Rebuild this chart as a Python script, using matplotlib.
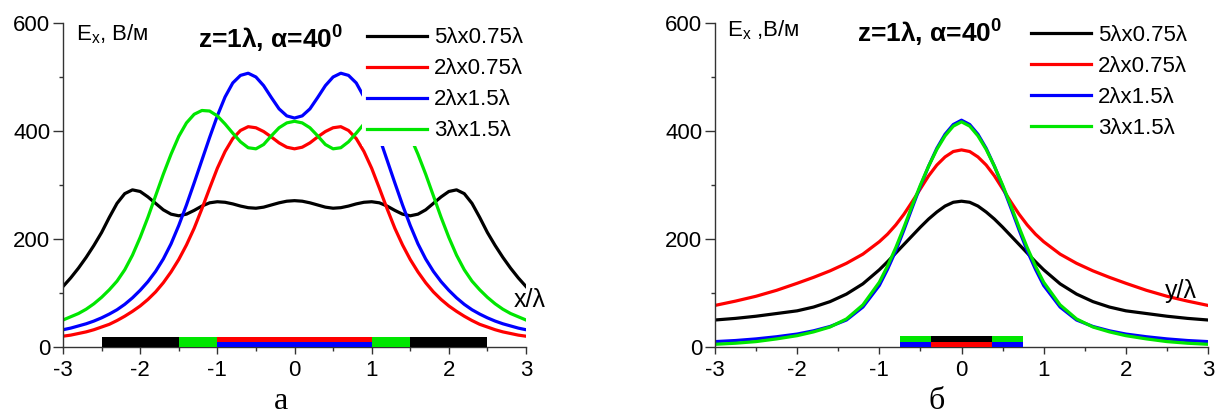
import numpy as np
import matplotlib
matplotlib.use("Agg")
import matplotlib.pyplot as plt

plt.rcParams['font.family'] = ['Liberation Sans', 'DejaVu Sans']
plt.rcParams['mathtext.fontset'] = 'custom'
plt.rcParams['mathtext.rm'] = 'Liberation Sans'
plt.rcParams['mathtext.it'] = 'Liberation Sans:italic'
plt.rcParams['mathtext.bf'] = 'Liberation Sans:bold'
plt.rcParams['mathtext.default'] = 'regular'

# ---------------- data: panel a (x/lambda) ----------------
x_a = [-3.0, -2.9, -2.8, -2.7, -2.6, -2.5, -2.4, -2.3, -2.2, -2.1, -2.0,
       -1.9, -1.8, -1.7, -1.6, -1.5, -1.4, -1.3, -1.2, -1.1, -1.0,
       -0.9, -0.8, -0.7, -0.6, -0.5, -0.4, -0.3, -0.2, -0.1, 0.0,
       0.1, 0.2, 0.3, 0.4, 0.5, 0.6, 0.7, 0.8, 0.9, 1.0,
       1.1, 1.2, 1.3, 1.4, 1.5, 1.6, 1.7, 1.8, 1.9, 2.0,
       2.1, 2.2, 2.3, 2.4, 2.5, 2.6, 2.7, 2.8, 2.9, 3.0]

a_5x075 = [112, 128, 146, 166, 188, 212, 240, 266, 284, 291, 288,
           278, 266, 254, 246, 243, 246, 253, 261, 267, 269,
           268, 265, 261, 258, 257, 259, 263, 267, 270, 271,
           270, 267, 263, 259, 257, 258, 261, 265, 268, 269,
           267, 261, 253, 246, 243, 246, 254, 266, 278, 288,
           291, 284, 266, 240, 212, 188, 166, 146, 128, 112]

a_2x075 = [20, 22, 25, 28, 32, 37, 42, 49, 57, 66, 76,
           88, 102, 119, 139, 162, 189, 220, 256, 294, 331,
           362, 386, 401, 408, 406, 399, 389, 378, 370, 367,
           370, 378, 389, 399, 406, 408, 401, 386, 362, 331,
           294, 256, 220, 189, 162, 139, 119, 102, 88, 76,
           66, 57, 49, 42, 37, 32, 28, 25, 22, 20]

a_2x15 = [32, 35, 39, 43, 48, 54, 61, 69, 79, 91, 105,
          121, 140, 163, 191, 225, 263, 304, 346, 388, 428,
          463, 489, 503, 507, 500, 484, 462, 441, 428, 424,
          428, 441, 462, 484, 500, 507, 503, 489, 463, 428,
          388, 346, 304, 263, 225, 191, 163, 140, 121, 105,
          91, 79, 69, 61, 54, 48, 43, 39, 35, 32]

a_3x15 = [50, 56, 62, 70, 80, 92, 106, 122, 143, 170, 203,
          240, 280, 320, 357, 390, 415, 431, 438, 437, 428,
          413, 396, 380, 369, 367, 375, 391, 406, 415, 418,
          415, 406, 391, 375, 367, 369, 380, 396, 413, 428,
          437, 438, 431, 415, 390, 357, 320, 280, 240, 203,
          170, 143, 122, 106, 92, 80, 70, 62, 56, 50]

# ---------------- data: panel b (y/lambda) ----------------
x_b = [-3.0, -2.75, -2.5, -2.25, -2.0, -1.8, -1.6, -1.4, -1.2, -1.0,
       -0.9, -0.8, -0.7, -0.6, -0.5, -0.4, -0.3, -0.2, -0.1, 0.0,
       0.1, 0.2, 0.3, 0.4, 0.5, 0.6, 0.7, 0.8, 0.9,
       1.0, 1.2, 1.4, 1.6, 1.8, 2.0, 2.25, 2.5, 2.75, 3.0]

b_5x075 = [50, 53, 57, 62, 67, 74, 84, 98, 117, 143,
           158, 174, 190, 206, 222, 237, 250, 261, 268, 270,
           268, 261, 250, 237, 222, 206, 190, 174, 158,
           143, 117, 98, 84, 74, 67, 62, 57, 53, 50]

b_2x075 = [77, 85, 94, 105, 118, 129, 141, 155, 172, 195,
           209, 226, 246, 269, 293, 317, 337, 352, 362, 365,
           362, 352, 337, 317, 293, 269, 246, 226, 209,
           195, 172, 155, 141, 129, 118, 105, 94, 85, 77]

b_2x15 = [10, 12, 15, 19, 24, 30, 38, 50, 74, 114,
          144, 178, 217, 258, 298, 335, 368, 394, 412, 420,
          412, 394, 368, 335, 298, 258, 217, 178, 144,
          114, 74, 50, 38, 30, 24, 19, 15, 12, 10]

b_3x15 = [5, 7, 10, 15, 21, 28, 37, 52, 78, 120,
          150, 184, 222, 262, 300, 335, 366, 391, 409, 417,
          409, 391, 366, 335, 300, 262, 222, 184, 150,
          120, 78, 52, 37, 28, 21, 15, 10, 7, 5]

labels = ['5λx0.75λ', '2λx0.75λ', '2λx1.5λ', '3λx1.5λ']
colors = ['#000000', '#ff0000', '#0000ff', '#00e600']

# aperture strips (width in lambda, bottom, height, colour index)
strip_a_width = [5.0, 3.0, 2.0, 2.0]
strip_a_bottom = [0, 0, 9.5, 0]
strip_a_height = [19, 19, 9.5, 9.5]
strip_a_color = [0, 3, 1, 2]

strip_b_width = [1.5, 1.5, 0.75, 0.75]
strip_b_bottom = [10, 0, 10, 0]
strip_b_height = [10, 10, 10, 10]
strip_b_color = [3, 2, 0, 1]

W, H = 1222, 418
fig = plt.figure(figsize=(W / 100, H / 100), dpi=100)
ax1 = fig.add_axes([63 / W, 71 / H, 463 / W, 324 / H])
ax2 = fig.add_axes([715 / W, 71 / H, 493 / W, 324 / H])


def style(ax):
    ax.set_xlim(-3, 3)
    ax.set_ylim(0, 600)
    for s in ['top', 'right']:
        ax.spines[s].set_visible(False)
    for s in ['left', 'bottom']:
        ax.spines[s].set_color('#333333')
        ax.spines[s].set_linewidth(1.0)
    ax.set_xticks([-3, -2, -1, 0, 1, 2, 3])
    ax.set_xticklabels(['-3', '-2', '-1', '0', '1', '2', '3'])
    ax.set_xticks([-2.5, -1.5, -0.5, 0.5, 1.5, 2.5], minor=True)
    ax.set_yticks([0, 200, 400, 600])
    ax.set_yticks([100, 300, 500], minor=True)
    ax.tick_params(axis='x', which='major', direction='out', length=5, width=1,
                   color='#333333', labelsize=16, pad=4)
    ax.tick_params(axis='x', which='minor', direction='out', length=3, width=1,
                   color='#333333')
    ax.tick_params(axis='y', which='major', direction='out', length=7, width=1,
                   color='#333333', labelsize=16, pad=2)
    ax.tick_params(axis='y', which='minor', direction='out', length=3, width=1,
                   color='#333333')


style(ax1)
style(ax2)

for ys, lab, c in zip([a_5x075, a_2x075, a_2x15, a_3x15], labels, colors):
    ax1.plot(x_a, ys, color=c, lw=2.3, label=lab, solid_joinstyle='round')
for ys, lab, c in zip([b_5x075, b_2x075, b_2x15, b_3x15], labels, colors):
    ax2.plot(x_b, ys, color=c, lw=2.3, label=lab, solid_joinstyle='round')

for w, b, h, ci in zip(strip_a_width, strip_a_bottom, strip_a_height, strip_a_color):
    ax1.bar(0, h, width=w, bottom=b, color=colors[ci], linewidth=0, zorder=3)
for w, b, h, ci in zip(strip_b_width, strip_b_bottom, strip_b_height, strip_b_color):
    ax2.bar(0, h, width=w, bottom=b, color=colors[ci], linewidth=0, zorder=3)

leg_kw = dict(fontsize=16, handlelength=2.7, handletextpad=0.35, labelspacing=0.45,
              borderpad=0.2, borderaxespad=0, frameon=True, fancybox=False,
              facecolor='white', edgecolor='none', framealpha=1.0, loc='upper left')
ax1.legend(bbox_to_anchor=(0.646, 1.0), **leg_kw)
ax2.legend(bbox_to_anchor=(0.631, 1.007), **leg_kw)

ax1.text(0.028, 0.966, 'E$_{x}$, В/м', transform=ax1.transAxes, fontsize=16,
         ha='left', va='center')
ax2.text(0.024, 0.978, 'E$_{x}$ ,В/м', transform=ax2.transAxes, fontsize=16,
         ha='left', va='center')
ax1.text(0.292, 0.948, 'z=1λ, α=40$^{0}$', transform=ax1.transAxes,
         fontsize=19, fontweight='bold', ha='left', va='center')
ax2.text(0.288, 0.969, 'z=1λ, α=40$^{0}$', transform=ax2.transAxes,
         fontsize=19, fontweight='bold', ha='left', va='center')

ax1.text(1.009, 0.145, 'x/λ', transform=ax1.transAxes, fontsize=18,
         ha='center', va='center')
ax2.text(0.945, 0.173, 'y/λ', transform=ax2.transAxes, fontsize=18,
         ha='center', va='center')

fig.text(281 / W, 9 / H, 'а', fontsize=23, family='Liberation Serif',
         ha='center', va='baseline')
fig.text(937 / W, 9 / H, 'б', fontsize=23, family='Liberation Serif',
         ha='center', va='baseline')

fig.savefig('out.png', dpi=100, facecolor='white')
